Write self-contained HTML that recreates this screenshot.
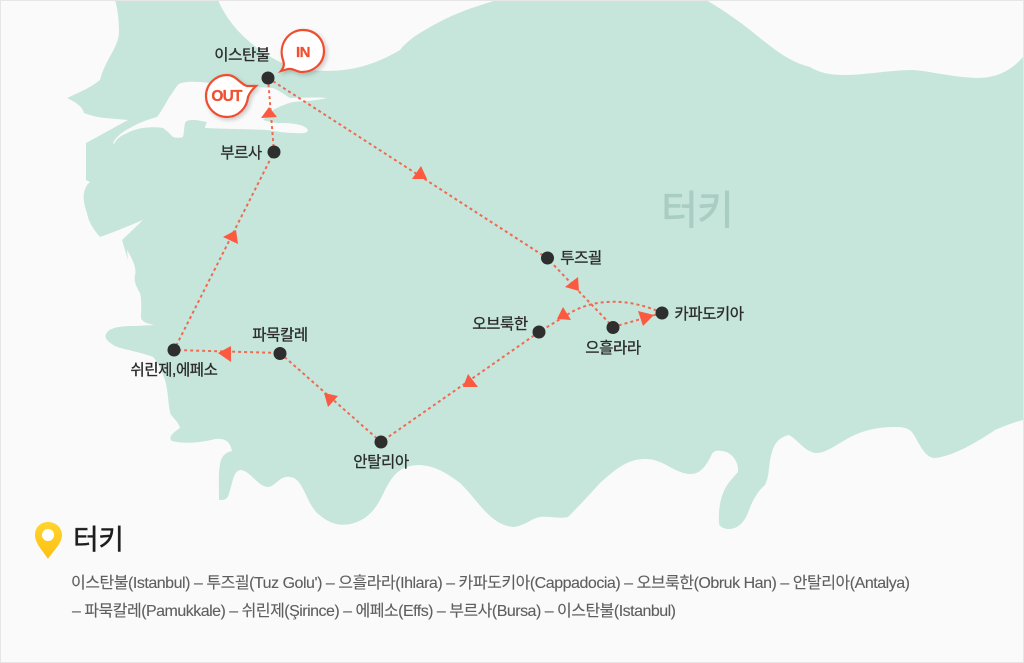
<!DOCTYPE html>
<html lang="ko"><head><meta charset="utf-8"><title>터키</title>
<style>
html,body{margin:0;padding:0;background:#fafafa}
svg{display:block;position:absolute;left:0;top:0}
text{font-family:"Liberation Sans","Noto Sans CJK KR",sans-serif}
.l{font-size:15.5px;fill:#2b2b2b;stroke:#2b2b2b;stroke-width:.3px;letter-spacing:-.4px;text-anchor:middle}
.f{font-size:16px;fill:#5f5f5f;stroke:#5f5f5f;stroke-width:.12px}
.d{fill:none;stroke:#ef6a52;stroke-width:2;stroke-dasharray:3 3}
.a{fill:#fb5a40}
.n{fill:#2e2e2e}
</style></head><body>
<svg width="1024" height="663" viewBox="0 0 1024 663" xmlns="http://www.w3.org/2000/svg">
<defs><linearGradient id="g" x1="0" y1="0" x2="0" y2="1"><stop offset="0" stop-color="#ffd52e"/><stop offset="1" stop-color="#fdbf12"/></linearGradient>
<filter id="s" x="-20%" y="-20%" width="150%" height="150%"><feDropShadow dx="2" dy="2" stdDeviation="2" flood-color="#000" flood-opacity=".2"/></filter></defs>
<rect x="0" y="0" width="1024" height="663" fill="#fafafa"/>
<path fill="#c6e6db" d="M115 0L218 0C228 24 250 47 280 62C300 71 332 74 360 67C378 62 390 56 400 50C406 42 416 35 425 30C450 15 470 8 497 0L706 0C720 8 738 20 755 34C775 50 790 62 810 67C820 73 830 75 845 75C865 75 890 70 913 70C930 71 950 77 977 78C995 78 1010 72 1023 57L1023 420C1012 423 1004 426 995 430C980 440 955 456 935 458C925 458 920 445 914 435C910 428 904 427 895 427C875 427 860 431 845 440C835 446 825 453 816 453C805 452 798 440 789 435C780 437 775 442 772 452C768 465 770 475 765 485C757 492 753 500 749 510C745 522 738 529 729 529C723 529 719 526 719 523C718 505 722 490 731 480L738 472C739 462 732 452 722 451C716 450 713 451 711 456C706 466 700 474 691 474C675 474 665 460 647 459C628 458 615 470 600 483C590 494 580 505 568 517C560 519 548 516 540 517C532 518 525 526 513 527C490 525 478 500 460 483C448 474 436 466 420 465C400 465 393 475 385 490C378 505 370 520 350 524C335 527 325 520 317 513C305 500 303 478 290 477C280 475 275 487 268 487C258 487 250 470 240 470C233 472 233 482 230 490C228 500 225 500 219 500C219 485 218 470 221 460C224 453 228 452 232 451C230 441 225 438 215 439C200 443 183 444 172 441C168 438 172 433 180 428C178 420 170 416 170 412C168 402 168 390 165 380C162 372 158 362 153 357C140 352 125 350 115 346C108 342 104 338 106 334C109 328 118 326 135 326L155 325C148 324 142 322 141 318C141 310 142 300 140 293C135 285 134 280 135 275C137 268 132 258 127 250L128 260L122 240L143 220C128 226 115 232 100 237C92 228 88 220 87 213C84 205 83 198 84 193C85 188 87 184 90 182L86 180L86 143L128 120L105 118C95 117 90 115 84 113C83 108 78 103 67 98C80 92 90 88 100 80C105 60 118 48 119 33C119 22 118 10 115 0Z"/>
<path fill="#fafafa" d="M113 143C116 137 122 132 130 128C140 122 150 119 157 117C164 108 168 98 173 92C176 87 178 84 181 83C190 81 195 82 200 82L257 87L273 88C280 91 285 95 290 98C302 98 318 97 327 98C315 101 303 101 293 102C285 104 279 107 273 110C269 114 266 117 263 120C270 122 275 123 280 123C290 123 298 124 303 126C307 128 309 130 307 132C302 134 297 133 293 133C285 133 275 131 267 130C245 129 225 129 205 128C205 126 206 124 207 122C201 121 197 120 193 120C188 120 186 121 185 123C184 128 184 133 183 137C179 138 176 138 173 137C169 133 166 130 163 128C157 127 150 127 143 128C135 129 129 132 123 135C119 137 116 140 114 144Z"/>
<path class="d" d="M268 78L547 258L613 327"/>
<path class="d" d="M613 327L662 313"/>
<path class="d" d="M662 313C630 298 595 298 570 313L539 332L381 442L280 353L174 350L274 152L268 78"/>
<polygon class="a" points="421,166 412,179 427,179"/>
<polygon class="a" points="578,277 565,287 579,291"/>
<polygon class="a" points="638,311 654,315 643,326"/>
<polygon class="a" points="563,307 557,319 571,320"/>
<polygon class="a" points="468,374 463,387 478,387"/>
<polygon class="a" points="324,393 338,396 328,407"/>
<polygon class="a" points="218,353 231,346 231,362"/>
<polygon class="a" points="223,237 236,230 238,244"/>
<polygon class="a" points="269,107 261,118 277,117"/>
<circle class="n" cx="268" cy="78" r="6.5"/><circle class="n" cx="274" cy="152" r="6.5"/>
<circle class="n" cx="547.500" cy="258" r="6.500"/><circle class="n" cx="613" cy="327.500" r="6.500"/>
<circle class="n" cx="662" cy="313" r="6.500"/><circle class="n" cx="539" cy="332" r="6.500"/>
<circle class="n" cx="381" cy="442" r="6.500"/><circle class="n" cx="280" cy="353.500" r="6.500"/>
<circle class="n" cx="174" cy="350" r="6.500"/>
<text class="l" x="242" y="60">이스탄불</text>
<text class="l" x="241" y="158">부르사</text>
<text class="l" x="581" y="263">투즈괼</text>
<text class="l" x="709" y="319">카파도키아</text>
<text class="l" x="500" y="329">오브룩한</text>
<text class="l" x="613" y="353">으흘라라</text>
<text class="l" x="280" y="340">파묵칼레</text>
<text class="l" x="174" y="375">쉬린제,에페소</text>
<text class="l" x="381" y="467">안탈리아</text>
<text x="697" y="224" font-size="40" fill="#a9cdc2" stroke="#a9cdc2" stroke-width=".8" text-anchor="middle" style="letter-spacing:-1px">터키</text>
<path filter="url(#s)" d="M281 71C285 66 284 63 283 60C278 45 288 30 303 30C316 30 324 40 324 51C324 63 314 72 302 72C296 72 294 68 288 69Z" fill="#fff" stroke="#f04e2e" stroke-width="2.200"/>
<text x="303" y="57" font-size="15" font-weight="700" fill="#f0502f" stroke="#f0502f" stroke-width=".3" text-anchor="middle" style="letter-spacing:-.5px">IN</text>
<path filter="url(#s)" d="M256 86C252 90 250 92 248 97C247 108 238 117 227 117C215 117 206 107 206 96C206 84 216 75 227 75C236 75 240 84 247 86Z" fill="#fff" stroke="#f04e2e" stroke-width="2.200"/>
<text x="226.500" y="101" font-size="15.500" font-weight="700" fill="#f0502f" stroke="#f0502f" stroke-width=".3" text-anchor="middle" style="letter-spacing:-.8px">OUT</text>
<path d="M48 559C44 552 35 544 35 535C35 527 41 522 48 522C55 522 62 527 62 535C62 544 52 552 48 559Z" fill="url(#g)"/>
<circle cx="48" cy="535" r="6" fill="#fff"/>
<text x="73" y="549" font-size="28" fill="#1c1c1c" stroke="#1c1c1c" stroke-width=".4" style="letter-spacing:-.5px">터키</text>
<text class="f" x="71" y="588" textLength="839">이스탄불(Istanbul) – 투즈괼(Tuz Golu') – 으흘라라(Ihlara) – 카파도키아(Cappadocia) – 오브룩한(Obruk Han) – 안탈리아(Antalya)</text>
<text class="f" x="72" y="616" textLength="604">– 파묵칼레(Pamukkale) – 쉬린제(Şirince) – 에페소(Effs) – 부르사(Bursa) – 이스탄불(Istanbul)</text>
<rect x=".5" y=".5" width="1023" height="662" fill="none" stroke="#e6e6e6"/>
</svg>
</body></html>
